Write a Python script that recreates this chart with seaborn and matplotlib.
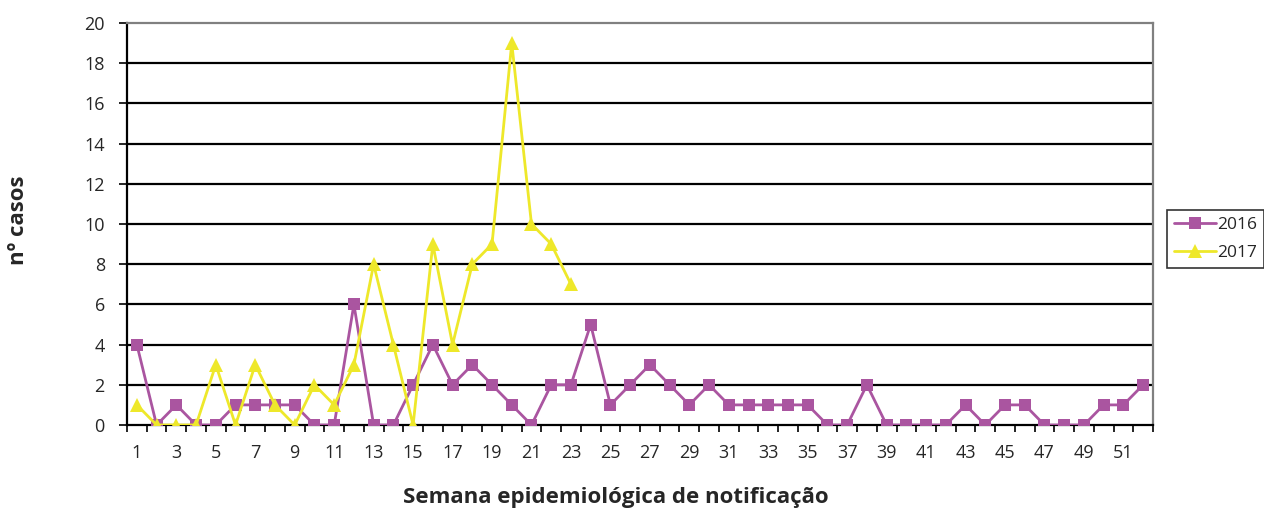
import matplotlib
matplotlib.use("Agg")
import matplotlib.pyplot as plt
import seaborn as sns
import pandas as pd
import numpy as np

weeks_2016 = list(range(1, 53))
cases_2016 = [4, 0, 1, 0, 0, 1, 1, 1, 1, 0, 0, 6, 0, 0, 2, 4, 2, 3, 2, 1,
              0, 2, 2, 5, 1, 2, 3, 2, 1, 2, 1, 1, 1, 1, 1, 0, 0, 2, 0, 0,
              0, 0, 1, 0, 1, 1, 0, 0, 0, 1, 1, 2]
weeks_2017 = list(range(1, 24))
cases_2017 = [1, 0, 0, 0, 3, 0, 3, 1, 0, 2, 1, 3, 8, 4, 0, 9, 4, 8, 9, 19,
              10, 9, 7]
x_tick_labels = [str(w) for w in range(1, 53, 2)]
y_ticks = list(range(0, 21, 2))

sns.set_theme(style="white")
plt.rcParams['font.family'] = ['Open Sans', 'DejaVu Sans']

purple = "#AA55A0"
yellow = "#EEE82A"

fig = plt.figure(figsize=(12.64, 5.12), dpi=100)
ax = fig.add_axes([127/1264, 1 - 425/512, (1153-127)/1264, (425-23)/512])

df16 = pd.DataFrame({"week": weeks_2016, "cases": cases_2016})
df17 = pd.DataFrame({"week": weeks_2017, "cases": cases_2017})

for y in y_ticks[1:-1]:
    ax.axhline(y, color="black", lw=1.6, zorder=1)

sns.lineplot(data=df16, x="week", y="cases", ax=ax, color=purple, marker="s",
             markersize=9, markeredgewidth=0, lw=2, label="2016", zorder=3)
sns.lineplot(data=df17, x="week", y="cases", ax=ax, color=yellow, marker="^",
             markersize=10, markeredgewidth=0, lw=2, label="2017", zorder=3)

ax.set_xlim(0.5, 52.5)
ax.set_ylim(0, 20)
ax.set_yticks(y_ticks)
ax.set_yticklabels([str(v) for v in y_ticks], fontsize=13)
ax.set_xticks(list(range(1, 53, 2)))
ax.set_xticklabels(x_tick_labels, fontsize=13)
ax.set_xticks(np.arange(0.5, 53, 1), minor=True)
ax.tick_params(axis="x", which="major", length=0, pad=14)
ax.tick_params(axis="x", which="minor", length=5, width=1.2, color="black", direction="out", bottom=True)
ax.tick_params(axis="y", which="major", length=6, width=1.2, color="black", direction="out", left=True, pad=10)

for s in ["left", "bottom"]:
    ax.spines[s].set_color("black")
    ax.spines[s].set_linewidth(1.6)
for s in ["top", "right"]:
    ax.spines[s].set_color("#808080")
    ax.spines[s].set_linewidth(1.6)

ax.set_xlabel("")
ax.set_ylabel("")
fig.text(616/1264, 1 - 497/512, "Semana epidemiológica de notificação",
         fontsize=16, fontweight="bold", ha="center", va="center")
fig.text(19/1264, 1 - 220/512, "nº casos", rotation=90,
         fontsize=16, fontweight="bold", ha="center", va="center")

leg = ax.legend(loc="center left", bbox_to_anchor=(1167/1264, 1 - 239/512),
                bbox_transform=fig.transFigure, frameon=True, fancybox=False,
                fontsize=12.5, handlelength=2.4, handletextpad=0.1,
                borderpad=0.4, labelspacing=0.7, borderaxespad=0)
leg.get_frame().set_edgecolor("black")
leg.get_frame().set_linewidth(1.2)

fig.savefig("out.png", dpi=100)
